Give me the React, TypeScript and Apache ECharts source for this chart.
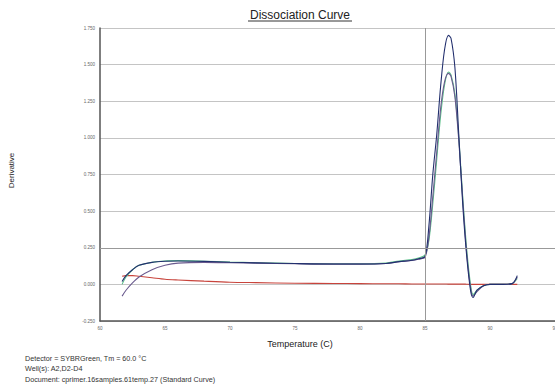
import React, { useEffect, useRef } from "react";
import * as echarts from "echarts";

const temps = [61.7, 62, 62.5, 63, 64, 65, 66, 68, 70, 72, 75, 78, 80, 82, 83, 84, 84.5, 85, 85.3, 85.6, 85.9, 86.2, 86.5, 86.8, 87.0, 87.3, 87.6, 87.9, 88.2, 88.5, 88.7, 89.0, 89.5, 90, 91, 91.7, 92.1];

const wellA2 = [0.055, 0.06, 0.06, 0.055, 0.045, 0.035, 0.03, 0.022, 0.015, 0.012, 0.008, 0.006, 0.005, 0.004, 0.004, 0.003, 0.003, 0.003, 0.003, 0.003, 0.003, 0.003, 0.003, 0.002, 0.002, 0.002, 0.002, 0.002, 0.001, 0.0, 0.0, 0.0, 0.0, 0.0, 0.0, 0.0, 0.0];
const wellD2 = [0.0, 0.05, 0.1, 0.13, 0.15, 0.16, 0.162, 0.158, 0.152, 0.148, 0.143, 0.14, 0.14, 0.145, 0.16, 0.17, 0.18, 0.2, 0.3, 0.55, 0.85, 1.15, 1.36, 1.45, 1.43, 1.3, 1.0, 0.6, 0.25, 0.0, -0.07, -0.04, -0.01, 0.0, 0.0, 0.005, 0.04];
const wellD3 = [0.02, 0.06, 0.1, 0.13, 0.15, 0.158, 0.16, 0.157, 0.151, 0.147, 0.142, 0.139, 0.139, 0.143, 0.155, 0.165, 0.175, 0.19, 0.4, 0.75, 1.02, 1.35, 1.6, 1.70, 1.68, 1.48, 1.02, 0.55, 0.2, -0.04, -0.09, -0.04, -0.01, 0.0, 0.0, 0.005, 0.06];
const wellD4 = [-0.08, -0.04, 0.01, 0.05, 0.1, 0.13, 0.145, 0.15, 0.148, 0.145, 0.141, 0.138, 0.138, 0.142, 0.154, 0.163, 0.172, 0.185, 0.32, 0.6, 0.9, 1.2, 1.38, 1.44, 1.42, 1.28, 0.98, 0.58, 0.22, -0.02, -0.08, -0.05, -0.01, 0.0, 0.0, 0.005, 0.05];

const yTicks = { min: -0.25, max: 1.75, interval: 0.25 };
const xTicks = { min: 60, max: 95, interval: 5 };
const markerTemp = 85;

const footerLines = [
  "Detector = SYBRGreen, Tm = 60.0 °C",
  "Well(s): A2,D2-D4",
  "Document: cprimer.16samples.61temp.27 (Standard Curve)",
];

const pair = (vals: number[]) => temps.map((t, i) => [t, vals[i]]);

export default function App() {
  const ref = useRef<HTMLDivElement>(null);
  useEffect(() => {
    document.body.style.margin = "0";
    const chart = echarts.init(ref.current!, null, { renderer: "svg" });
    const font = "Liberation Sans, Arial, sans-serif";
    const lineSeries = (name: string, vals: number[], color: string, extra: any = {}) => ({
      name,
      type: "line",
      data: pair(vals),
      smooth: 0.3,
      showSymbol: false,
      lineStyle: { color, width: 1.1 },
      ...extra,
    });
    chart.setOption({
      animation: false,
      backgroundColor: "#fff",
      grid: { left: 100, top: 28, right: 0, bottom: 67, outerBoundsMode: "none", containLabel: false },
      xAxis: {
        type: "value",
        min: xTicks.min,
        max: xTicks.max,
        interval: xTicks.interval,
        axisLine: { onZero: false, lineStyle: { color: "#555", width: 1.5 } },
        axisTick: { show: false },
        splitLine: { show: false },
        axisLabel: { fontSize: 4.5, color: "#666", fontFamily: font, margin: 5 },
      },
      yAxis: {
        type: "value",
        min: yTicks.min,
        max: yTicks.max,
        interval: yTicks.interval,
        name: "Derivative",
        nameLocation: "middle",
        nameGap: 85,
        nameRotate: 90,
        nameTextStyle: { fontFamily: font, fontSize: 8, color: "#222", padding: [0, 0, 0, 8] },
        axisLine: { show: true, lineStyle: { color: "#555", width: 1.5 } },
        axisTick: { show: false },
        splitLine: { lineStyle: { color: "#c4c4c4", width: 1 } },
        axisLabel: {
          fontSize: 4.5,
          color: "#666",
          fontFamily: font,
          margin: 5,
          formatter: (v: number) => v.toFixed(3),
        },
      },
      series: [
        lineSeries("A2", wellA2, "#c8443c", {
          markLine: {
            silent: true,
            symbol: "none",
            label: { show: false },
            lineStyle: { color: "#999", width: 1, type: "solid" },
            data: [{ xAxis: markerTemp }, { yAxis: 0.25 }],
          },
        }),
        lineSeries("D2", wellD2, "#5cc08a"),
        lineSeries("D4", wellD4, "#6a5a8e"),
        lineSeries("D3", wellD3, "#23306e"),
      ],
      graphic: [
        {
          type: "text",
          x: 300,
          y: 15,
          style: {
            text: "Dissociation Curve",
            fontFamily: font,
            fontSize: 12,
            fill: "#222",
            textAlign: "center",
            textVerticalAlign: "middle",
          },
        },
        {
          type: "line",
          shape: { x1: 248, y1: 21, x2: 352, y2: 21 },
          style: { stroke: "#333", lineWidth: 1 },
        },
        {
          type: "text",
          x: 300,
          y: 344,
          style: {
            text: "Temperature (C)",
            fontFamily: font,
            fontSize: 9,
            fill: "#222",
            textAlign: "center",
            textVerticalAlign: "middle",
          },
        },
        ...footerLines.map((t, i) => ({
          type: "text",
          x: 25,
          y: 358 + i * 10.5,
          style: {
            text: t,
            fontFamily: font,
            fontSize: 7.2,
            fill: "#333",
            textVerticalAlign: "middle",
          },
        })),
      ],
    });
    return () => chart.dispose();
  }, []);
  return <div ref={ref} style={{ width: 555, height: 388 }} />;
}
